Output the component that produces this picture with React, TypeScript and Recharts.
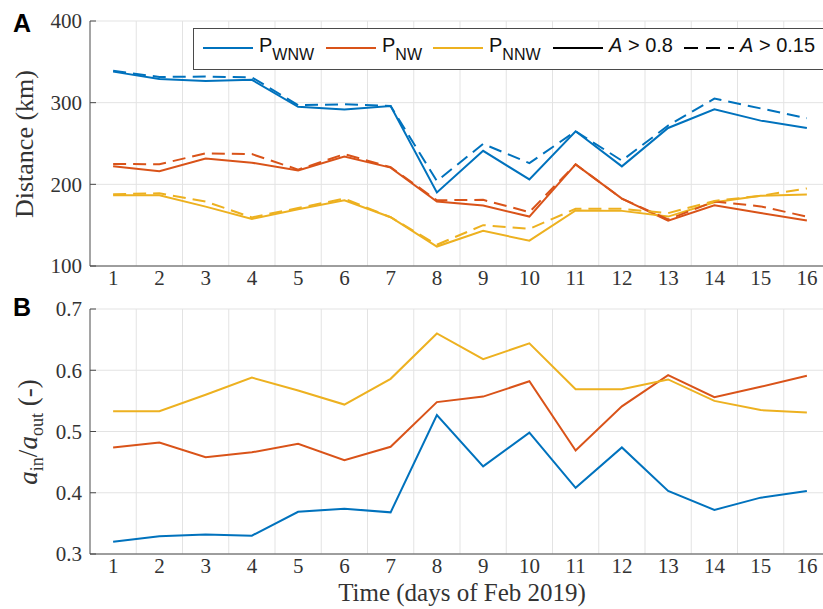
import React from 'react';
import { LineChart, Line, XAxis, YAxis, CartesianGrid } from 'recharts';

const SERIF = "'Liberation Serif', 'Times New Roman', serif";
const SANS = "'Liberation Sans', Arial, sans-serif";
const TEXT = '#333333';
const AXIS = '#4a4a4a';
const GRID = '#e3e3e3';
const BLUE = '#0072BD';
const RED = '#D95319';
const YELLOW = '#EDB120';
const DASH = '13 7';

const CHART_W = 832;
const PLOT_TOP = 21;
const PLOT_H = 245;
const Y_AXIS_W = 90;
const TICK_STYLE = { fontFamily: SERIF, fontSize: 21, fill: TEXT };

// days of Feb 2019
const days = [1, 2, 3, 4, 5, 6, 7, 8, 9, 10, 11, 12, 13, 14, 15, 16];
// MATLAB-style ticks/grid sit between the days
const gridDays = [1.5, 2.5, 3.5, 4.5, 5.5, 6.5, 7.5, 8.5, 9.5, 10.5, 11.5, 12.5, 13.5, 14.5, 15.5];

// Panel A: distance (km), solid = A > 0.8, dashed = A > 0.15
const wnwHigh = [338, 329, 326.5, 328, 295, 291.5, 296, 190, 241, 206, 265, 222, 269, 292, 278, 269];
const wnwLow = [339, 331.5, 332, 331, 297, 298, 296, 204, 249.5, 226, 265, 229, 272, 305, 293, 281];
const nwHigh = [222, 216, 231.5, 226.5, 217, 234, 220.5, 179, 174, 160.5, 224.5, 182.5, 155.6, 174.4, 165, 155.6];
const nwLow = [225, 224.5, 238, 237, 218, 237, 221, 180.5, 181, 166, 224.5, 182.5, 157, 179, 173, 160.5];
const nnwHigh = [186.6, 186.6, 172.7, 157.6, 169.5, 180.5, 159.7, 123.8, 143, 131, 168, 167.5, 160.5, 178, 186, 187.5];
const nnwLow = [188, 189, 179, 159.5, 171, 182.5, 159.7, 126, 150, 145.5, 170, 170, 164.7, 179.7, 186, 195];

// Panel B: a_in / a_out
const wnwRatio = [0.32, 0.329, 0.332, 0.33, 0.369, 0.374, 0.368, 0.527, 0.443, 0.498, 0.408, 0.474, 0.403, 0.372, 0.392, 0.403];
const nwRatio = [0.474, 0.482, 0.458, 0.466, 0.48, 0.453, 0.475, 0.548, 0.557, 0.582, 0.469, 0.541, 0.592, 0.556, 0.573, 0.591];
const nnwRatio = [0.533, 0.533, 0.56, 0.588, 0.567, 0.544, 0.586, 0.66, 0.618, 0.644, 0.569, 0.569, 0.585, 0.55, 0.535, 0.531];

const distTicks = [100, 200, 300, 400];
const ratioTicks = [0.3, 0.4, 0.5, 0.6, 0.7];

const distRows = days.map((d, i) => ({
    day: d,
    wnwHigh: wnwHigh[i], wnwLow: wnwLow[i],
    nwHigh: nwHigh[i], nwLow: nwLow[i],
    nnwHigh: nnwHigh[i], nnwLow: nnwLow[i],
}));
const ratioRows = days.map((d, i) => ({ day: d, wnw: wnwRatio[i], nw: nwRatio[i], nnw: nnwRatio[i] }));

type Series = { key: string; color: string; dashed?: boolean };

const distSeries: Series[] = [
    { key: 'wnwHigh', color: BLUE },
    { key: 'nwHigh', color: RED },
    { key: 'nnwHigh', color: YELLOW },
    { key: 'wnwLow', color: BLUE, dashed: true },
    { key: 'nwLow', color: RED, dashed: true },
    { key: 'nnwLow', color: YELLOW, dashed: true },
];
const ratioSeries: Series[] = [
    { key: 'wnw', color: BLUE },
    { key: 'nw', color: RED },
    { key: 'nnw', color: YELLOW },
];

// inward tick marks on top and bottom edges
const HalfTick = (props: any) => {
    const { x, y } = props;
    return (
        <g>
            <line x1={x} x2={x} y1={y} y2={y + 6} stroke={AXIS} />
            <line x1={x} x2={x} y1={y + PLOT_H} y2={y + PLOT_H - 6} stroke={AXIS} />
        </g>
    );
};

const XTick = (props: any) => {
    const { x, y, payload } = props;
    return (
        <text x={x} y={y} dy="0.75em" textAnchor="middle" style={TICK_STYLE}>
            {payload.value}
        </text>
    );
};

const YTick = (props: any) => {
    const { x, y, payload, fmt } = props;
    return (
        <g>
            <line x1={x + 8} x2={x + 14} y1={y} y2={y} stroke={AXIS} />
            <text x={x} y={y} dy="0.35em" textAnchor="end" style={TICK_STYLE}>
                {fmt(payload.value)}
            </text>
        </g>
    );
};

const Panel = ({ rows, series, domain, ticks, fmt, height }: any) => (
    <LineChart width={CHART_W} height={height} data={rows} margin={{ top: PLOT_TOP, right: 2, left: 0, bottom: 0 }}>
        <CartesianGrid xAxisId="main" stroke={GRID} verticalValues={gridDays} />
        <XAxis
            xAxisId="half" orientation="top" type="number" dataKey="day"
            domain={[0.5, 16.5]} ticks={gridDays} interval={0} height={0}
            tickSize={0} tickMargin={0} tickLine={false} tick={<HalfTick />}
            axisLine={{ stroke: AXIS }}
        />
        <XAxis
            xAxisId="main" type="number" dataKey="day"
            domain={[0.5, 16.5]} ticks={days} interval={0} height={height - PLOT_TOP - PLOT_H}
            tickLine={false} tickSize={0} tickMargin={3} axisLine={{ stroke: AXIS }}
            tick={<XTick />}
        />
        <YAxis
            type="number" domain={domain} ticks={ticks} interval={0} width={Y_AXIS_W}
            tickLine={false} tickSize={0} tickMargin={8} axisLine={{ stroke: AXIS }}
            tick={(p: any) => <YTick {...p} fmt={fmt} />}
        />
        {series.map((s: Series) => (
            <Line
                key={s.key} xAxisId="main" type="linear" dataKey={s.key}
                stroke={s.color} strokeWidth={2}
                strokeDasharray={s.dashed ? DASH : undefined}
                dot={false} activeDot={false} isAnimationActive={false}
            />
        ))}
    </LineChart>
);

const legendItems = [
    { left: 9, color: BLUE, dashed: false, main: 'P', sub: 'WNW' },
    { left: 132, color: RED, dashed: false, main: 'P', sub: 'NW' },
    { left: 239, color: YELLOW, dashed: false, main: 'P', sub: 'NNW' },
    { left: 359, color: '#000', dashed: false, italic: 'A', main: ' > 0.8' },
    { left: 490, color: '#000', dashed: true, italic: 'A', main: ' > 0.15' },
];

const Legend = () => (
    <div style={{
        position: 'absolute', left: 193, top: 28, width: 640, height: 40,
        border: `1px solid ${AXIS}`, background: '#fff', fontFamily: SANS, color: '#111',
    }}>
        {legendItems.map((it, i) => (
            <div key={i} style={{ position: 'absolute', left: it.left, top: 0, height: 40 }}>
                <svg width={50} height={4} style={{ position: 'absolute', left: 0, top: 17 }}>
                    <line x1={0} x2={50} y1={2} y2={2} stroke={it.color} strokeWidth={2}
                        strokeDasharray={it.dashed ? '14 8' : undefined} />
                </svg>
                <div style={{ position: 'absolute', left: 56, top: 6, fontSize: 20, lineHeight: 1, whiteSpace: 'nowrap' }}>
                    {it.italic && <span style={{ fontStyle: 'italic' }}>{it.italic}</span>}
                    {it.main}
                    {it.sub && <span style={{ fontSize: 16, position: 'relative', top: 8 }}>{it.sub}</span>}
                </div>
            </div>
        ))}
    </div>
);

export default function App() {
    return (
        <div style={{ position: 'absolute', left: 0, top: 0, width: 823, height: 609, overflow: 'hidden', background: '#fff' }}>
            <div style={{ position: 'absolute', left: 0, top: 0 }}>
                <Panel rows={distRows} series={distSeries} domain={[100, 400]} ticks={distTicks}
                    fmt={(v: number) => String(v)} height={300} />
            </div>
            <div style={{ position: 'absolute', left: 0, top: 288 }}>
                <Panel rows={ratioRows} series={ratioSeries} domain={[0.3, 0.7]} ticks={ratioTicks}
                    fmt={(v: number) => v.toFixed(1)} height={321} />
            </div>

            <Legend />

            {/* panel letters */}
            <div style={{ position: 'absolute', left: 13, top: 11, fontFamily: SANS, fontWeight: 'bold', fontSize: 25, lineHeight: 1 }}>A</div>
            <div style={{ position: 'absolute', left: 13, top: 295, fontFamily: SANS, fontWeight: 'bold', fontSize: 25, lineHeight: 1 }}>B</div>

            {/* axis titles */}
            <div style={{
                position: 'absolute', left: 25, top: 143.5, transform: 'translate(-50%, -50%) rotate(-90deg)',
                fontFamily: SERIF, fontSize: 26, lineHeight: 1, color: TEXT, whiteSpace: 'nowrap',
            }}>
                Distance (km)
            </div>
            <div style={{
                position: 'absolute', left: 28, top: 431.5, transform: 'translate(-50%, -50%) rotate(-90deg)',
                fontFamily: SERIF, fontSize: 27, lineHeight: 1, color: TEXT, whiteSpace: 'nowrap',
            }}>
                <span style={{ fontStyle: 'italic' }}>a</span>
                <span style={{ fontSize: 18, position: 'relative', top: 6 }}>in</span>
                /
                <span style={{ fontStyle: 'italic' }}>a</span>
                <span style={{ fontSize: 18, position: 'relative', top: 6 }}>out</span>
                {'  (-)'}
            </div>
            <div style={{
                position: 'absolute', left: 462, top: 580, transform: 'translateX(-50%)',
                fontFamily: SERIF, fontSize: 25, lineHeight: 1, color: TEXT, whiteSpace: 'nowrap',
            }}>
                Time (days of Feb 2019)
            </div>
        </div>
    );
}
